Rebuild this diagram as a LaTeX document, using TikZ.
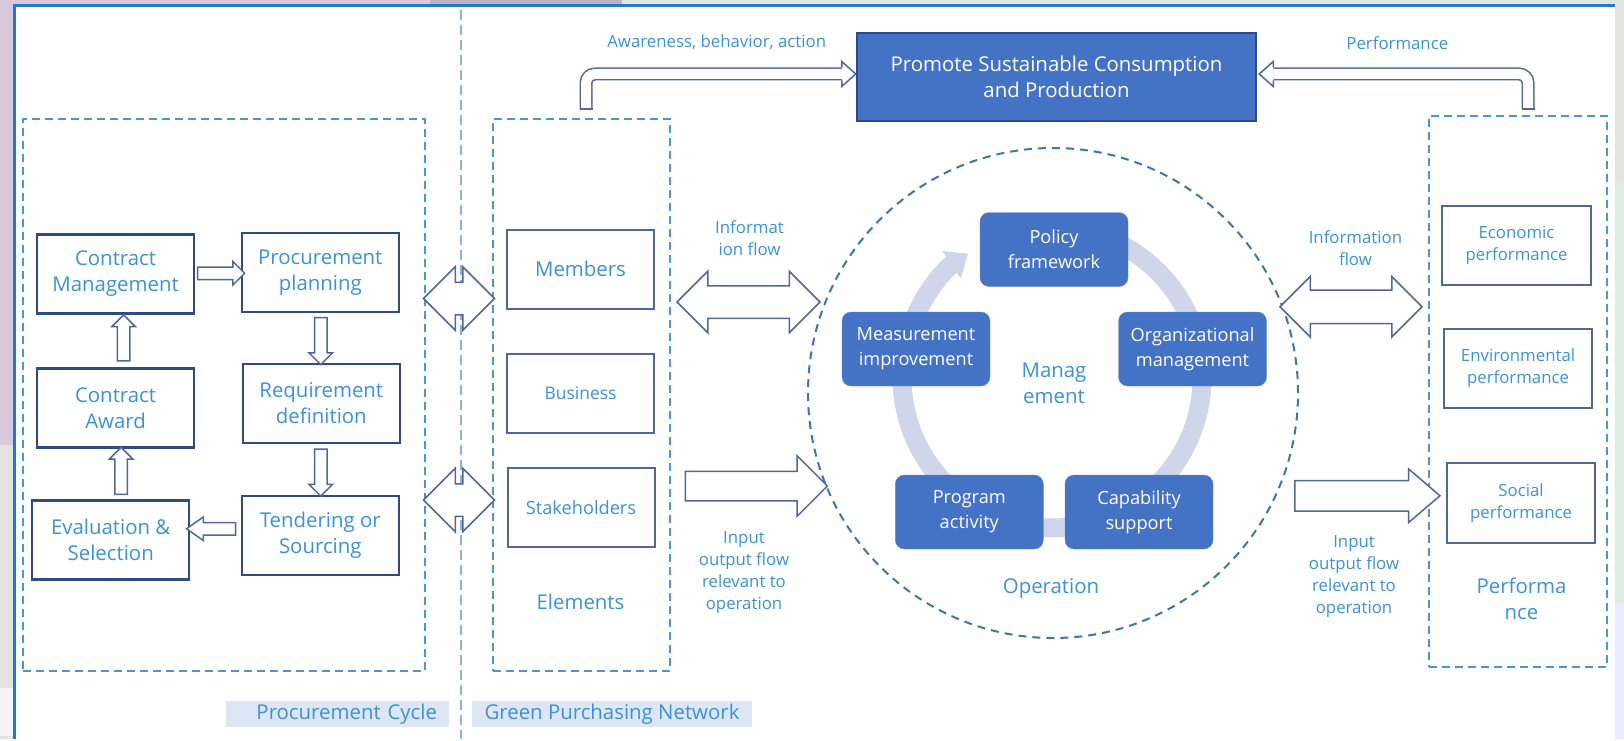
\documentclass[tikz,border=0pt]{standalone}
\usepackage{fontspec}
\setmainfont{Open Sans}
\usetikzlibrary{calc,shapes.arrows,arrows.meta}

\definecolor{framblue}{RGB}{30,122,212}
\definecolor{zoneblue}{RGB}{72,150,214}
\definecolor{sepblue}{RGB}{140,178,224}
\definecolor{txtblue}{RGB}{60,146,212}
\definecolor{navyline}{RGB}{48,74,136}
\definecolor{slateline}{RGB}{80,104,150}
\definecolor{cardblue}{RGB}{68,114,196}
\definecolor{ringlav}{RGB}{207,213,234}
\definecolor{tagfill}{RGB}{220,230,244}
\definecolor{lavbg}{RGB}{218,201,221}
\definecolor{greybg}{RGB}{227,228,221}
\definecolor{greenbg}{RGB}{221,235,225}

\newcommand\bigtxt{\fontsize{20.4}{26}\selectfont}
\newcommand\smalltxt{\fontsize{16.8}{22}\selectfont}

\tikzset{
	zone/.style={draw=zoneblue, line width=2pt, dash pattern=on 8pt off 5pt, inner sep=0pt},
	stage/.style={draw=navyline, line width=2.2pt, minimum width=157pt, minimum height=79pt, text=txtblue, font=\bigtxt, align=center},
	member/.style={draw=slateline, line width=2pt, minimum width=147pt, minimum height=79pt, text=txtblue, align=center},
	card/.style={fill=cardblue, draw=cardblue!80!white, rounded corners=9pt, minimum width=148pt, minimum height=74pt, text=white, font=\fontsize{18.2}{25}\selectfont, align=center},
	lbl/.style={text=txtblue, font=\smalltxt, align=center, inner sep=0pt},
	hollow/.style={single arrow, draw=slateline, fill=white, line width=1.5pt, inner xsep=0pt, inner ysep=5.5pt, single arrow head extend=5.5pt},
	twoway/.style={double arrow, draw=slateline, fill=white, line width=1.5pt, inner xsep=0pt, inner ysep=15.5pt},
	tagbox/.style={fill=tagfill, text=txtblue, font=\bigtxt, inner xsep=12pt, inner ysep=0pt, minimum height=26pt},
	bent/.style={slateline, line width=1.5pt, double=white, double distance=10pt, rounded corners=9pt}
}

\begin{document}
\begin{tikzpicture}[x=1pt, y=-1pt]
			%%%%% START %%%%%
			
			\fill[greybg] (0, 0) rectangle (1624, 739);
			\fill[lavbg] (0, 0) rectangle (430, 5);
			\fill[lavbg!80!black!60!lavbg] (430, 0) rectangle (622, 5);
			\fill[lavbg] (0, 0) rectangle (13, 445);
			\fill[black!4] (0, 688) rectangle (13, 736);
			\fill[greenbg] (1615, 180) rectangle (1624, 603);
			\fill[black!20!blue!8] (1615, 603) rectangle (1624, 739);
			\fill[white] (13, 5) rectangle (1615, 739);
			\draw[framblue, line width=3pt] (14.5, 739) -- (14.5, 6) -- (1615, 6);
			
			\draw[sepblue, line width=1.2pt, dash pattern=on 10pt off 5pt] (461, 10) -- (461, 739);
			
			% procurement cycle
			\node[zone, minimum width=402pt, minimum height=552pt] (cycle) at (224, 395) {};
			\node[stage] (cm) at (115.6, 274) {Contract\\Management};
			\node[stage] (pp) at (320.3, 272.5) {Procurement\\planning};
			\node[stage] (rd) at (321.3, 403.5) {Requirement\\definition};
			\node[stage] (ts) at (320.3, 535.5) {Tendering or\\Sourcing};
			\node[stage] (es) at (110.7, 540) {Evaluation \&\\Selection};
			\node[stage] (ca) at (115.6, 408) {Contract\\Award};
			
			\node[hollow, minimum height=47pt] at ($(cm.east)!0.5!(pp.west)$) {};
			\node[hollow, minimum height=47pt, rotate=-90] at ($(pp.south)!0.5!(rd.north)$) {};
			\node[hollow, minimum height=47pt, rotate=-90] at ($(rd.south)!0.5!(ts.north)$) {};
			\node[hollow, minimum height=49pt, rotate=180, yshift=-9pt, single arrow tip angle=70] at ($(ts.west)!0.5!(es.east)$) {};
			\node[hollow, minimum height=47pt, rotate=90] at ([xshift=8pt]$(es.north)!0.5!(ca.south)$) {};
			\node[hollow, minimum height=46pt, rotate=90] at ([xshift=8pt]$(ca.north)!0.5!(cm.south)$) {};
			
			% green purchasing network
			\node[zone, minimum width=177pt, minimum height=552pt] (net) at (581.5, 395) {};
			\node[member, font=\bigtxt] (mem) at (580.5, 269) {Members};
			\node[member, font=\fontsize{17.4}{22}\selectfont] (bus) at (580.5, 393.5) {Business};
			\node[member, font=\fontsize{18.2}{22}\selectfont] (stk) at (581, 507.5) {Stakeholders};
			\node[lbl, font=\bigtxt] (elem) at (580.5, 602) {Elements};
			
			\node[twoway, minimum height=71pt, double arrow head extend=15.5pt] (lk1) at ([yshift=96.5pt]$(cycle.east)!0.5!(net.west)$) {};
			\node[twoway, minimum height=71pt, double arrow head extend=15.5pt] (lk2) at ([yshift=-105pt]$(cycle.east)!0.5!(net.west)$) {};
			
			% operation
			\node[draw=zoneblue!80!black, line width=2pt, dash pattern=on 8pt off 6pt, circle, minimum size=490pt, inner sep=0pt] (op) at (1053, 393) {};
			\coordinate (hub) at (1052, 378);
			\draw[ringlav, line width=19pt] ($(hub)+(-90:150)$) arc[start angle=-90, end angle=205, radius=150];
			\draw[ringlav, line width=19pt, -{Triangle[width=32pt, length=20pt]}] ($(hub)+(200:150)$) arc[start angle=200, end angle=236, radius=150];
			
			\node[card] (pol) at (1054, 249.5) {Policy\\framework};
			\node[card] (org) at (1192.5, 349) {Organizational\\management};
			\node[card] (cap) at (1139, 512) {Capability\\support};
			\node[card] (prg) at (969.3, 512) {Program\\activity};
			\node[card] (msr) at (916, 349) {Measurement\\improvement};
			\node[lbl, font=\bigtxt] (mgmt) at (1054, 383) {Manag\\ement};
			\node[lbl, font=\bigtxt] (opr) at (1051, 588) {Operation};
			
			\node[twoway, minimum height=143pt, double arrow head extend=14.5pt] (info1) at ([xshift=9.5pt, yshift=92pt]$(net.east)!0.5!(op.west)$) {};
			\node[hollow, minimum height=142pt, inner ysep=14pt, single arrow head extend=15.5pt] (io1) at ([xshift=10pt, yshift=-92pt]$(net.east)!0.5!(op.west)$) {};
			\node[lbl] at (749.5, 238) {Informat\\ion flow};
			\node[lbl] at (744, 573) {Input\\output flow\\relevant to\\operation};
			
			% performance
			\node[zone, minimum width=178pt, minimum height=551pt] (perf) at (1518, 391.5) {};
			\node[member, minimum width=149pt, font=\smalltxt] (eco) at (1516.5, 245.5) {Economic\\performance};
			\node[member, minimum width=148pt, font=\smalltxt] (env) at (1518, 368.5) {Environmental\\performance};
			\node[member, minimum width=148pt, minimum height=80pt, font=\smalltxt] (soc) at (1521, 503) {Social\\performance};
			\node[lbl, font=\bigtxt] (perfl) at (1521.5, 599) {Performa\\nce};
			
			\node[twoway, minimum height=142pt, inner ysep=16pt, double arrow head extend=13.5pt] (info2) at ([xshift=-12.5pt, yshift=85.5pt]$(op.east)!0.5!(perf.west)$) {};
			\node[hollow, minimum height=145pt, inner ysep=14.5pt, single arrow head extend=11.5pt, single arrow tip angle=81] (io2) at ([xshift=-5pt, yshift=-103.5pt]$(op.east)!0.5!(perf.west)$) {};
			\node[lbl] at (1355.4, 248) {Information\\flow};
			\node[lbl] at (1354, 576.5) {Input\\output flow\\relevant to\\operation};
			
			% top goal
			\node[draw=navyline, fill=cardblue, line width=2.5pt, minimum width=399pt, minimum height=88pt, text=white, font=\bigtxt, align=center] (scp) at (1056.5, 77) {Promote Sustainable Consumption\\and Production};
			\node[lbl] (aware) at (716.7, 42.7) {Awareness, behavior, action};
			\node[lbl] (perftop) at (1397.3, 42.7) {Performance};
			
			\draw[bent] ([xshift=4.5pt, yshift=9pt]net.north) |- ($(scp.west)+(-14,-3)$);
			\draw[slateline, line width=1.5pt] ([xshift=-2pt, yshift=9pt]net.north) -- ([xshift=11pt, yshift=9pt]net.north);
			\draw[slateline, line width=1.5pt, fill=white] ($(scp.west)+(-14,-9.5)$) -- ($(scp.west)+(-14,-15.5)$) -- ($(scp.west)+(0,-3)$) -- ($(scp.west)+(-14,9.5)$) -- ($(scp.west)+(-14,3.5)$);
			
			\draw[bent] ([xshift=10pt, yshift=6pt]perf.north) |- ($(scp.east)+(16,-3)$);
			\draw[slateline, line width=1.5pt] ([xshift=3.5pt, yshift=6pt]perf.north) -- ([xshift=16.5pt, yshift=6pt]perf.north);
			\draw[slateline, line width=1.5pt, fill=white] ($(scp.east)+(16,-9.5)$) -- ($(scp.east)+(16,-15.5)$) -- ($(scp.east)+(2,-3)$) -- ($(scp.east)+(16,9.5)$) -- ($(scp.east)+(16,3.5)$);
			
			% bottom tags
			\node[tagbox, text width=199pt, align=right] (pctag) at (337.5, 714) {Procurement Cycle};
			\node[tagbox, minimum width=280pt] (gptag) at (612, 714) {Green Purchasing Network};
			
			%%%%% END %%%%%
\end{tikzpicture}
\end{document}
